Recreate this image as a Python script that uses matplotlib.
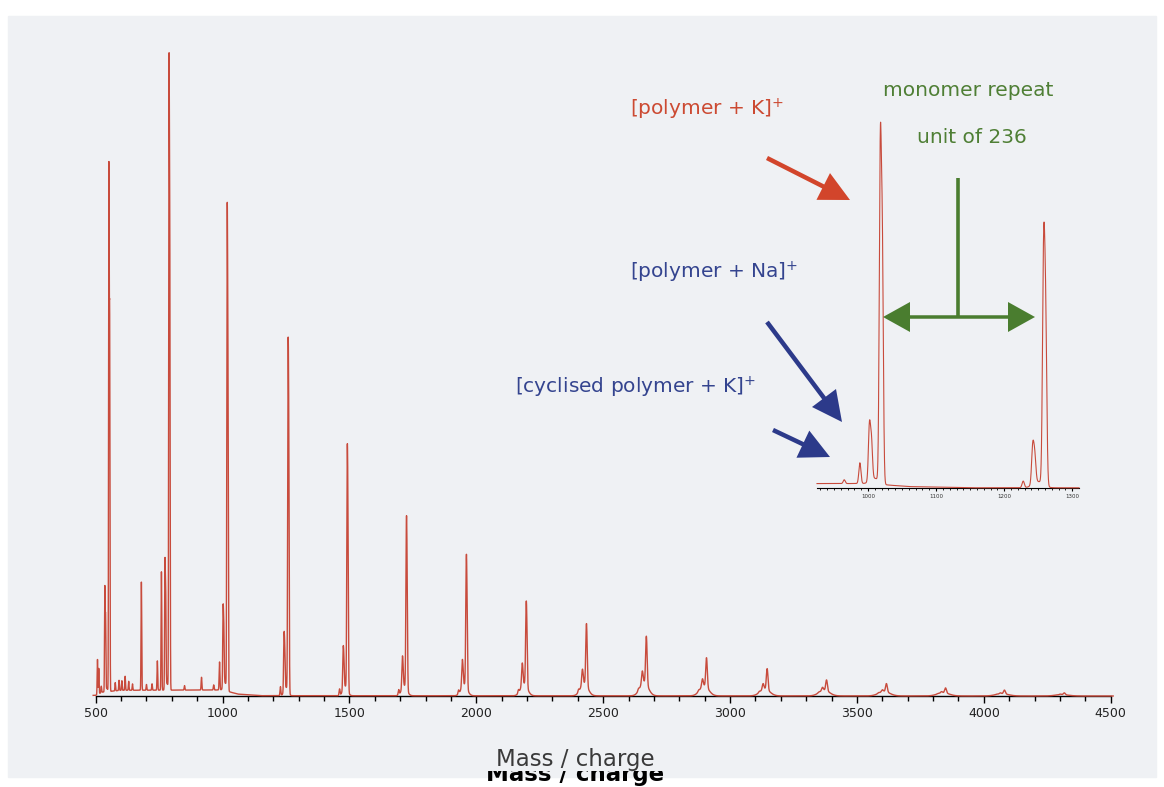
import numpy as np
import matplotlib
matplotlib.use("Agg")
import matplotlib.pyplot as plt
from matplotlib.patches import FancyArrow, Rectangle

# ---------------------------------------------------------------- data
# [polymer + K]+ oligomer series: m/z and relative intensity (%)
k_mz = [552, 789, 1018, 1258, 1491, 1724, 1960, 2196, 2433, 2669,
        2906, 3145, 3379, 3615, 3848, 4080, 4316]
k_int = [83.3, 100.0, 76.4, 55.7, 38.7, 27.2, 20.9, 13.4, 9.7, 7.5,
         4.6, 3.3, 1.7, 1.3, 0.8, 0.6, 0.3]
# [polymer + Na]+ companions (16 below each K adduct)
na_int = [16.7, 20.6, 13.0, 9.3, 6.8, 5.0, 4.2, 3.5, 2.4, 1.9,
          1.2, 0.9, 0.5, 0.3, 0.2, 0.15, 0.1]
# [cyclised polymer + K]+ companions (30 below each K adduct)
cyc_int = [1.0, 18.6, 4.4, 1.4, 1.0, 0.8, 0.6, 0.5, 0.4, 0.3,
           0.2, 0.15, 0.1, 0.1, 0.05, 0.05, 0.03]
# unresolved isotope envelope beneath each cluster
env_int = [0.5, 1.0, 1.2, 1.3, 1.5, 1.6, 1.8, 1.9, 2.0, 2.2,
           1.6, 1.1, 0.9, 0.7, 0.5, 0.35, 0.2]
# matrix / low-mass peaks
low_mz = [507, 512, 577, 592, 603, 616, 630, 645, 680, 700, 722, 743, 850, 917, 965]
low_int = [5.5, 4.0, 1.3, 1.6, 1.5, 2.2, 1.4, 1.0, 17.0, 0.9, 1.0, 4.6, 0.7, 2.0, 0.8]
# chemical-noise baseline
base_mz = [500, 525, 600, 1000, 1060, 1150, 4500]
base_lvl = [0.1, 0.6, 0.9, 0.95, 0.3, 0.05, 0.0]

major_ticks = [500, 1000, 1500, 2000, 2500, 3000, 3500, 4000, 4500]
inset_ticks = [1000, 1100, 1200, 1300]
inset_range = (925, 1310)

NA_SHIFT, CYC_SHIFT, ISO_SHIFT = -16, -30, 3

# ------------------------------------------------------------ spectrum
mz = np.arange(490.0, 4510.0, 0.1)
signal = np.interp(mz, base_mz, base_lvl)


def gauss(c, s):
    return np.exp(-0.5 * ((mz - c) / s) ** 2)


def doublet(c, h, s):
    """Peak plus its +3 isotope partner, scaled so the apex equals h."""
    g = gauss(c, s) + 0.7 * gauss(c + ISO_SHIFT, s)
    win = np.abs(mz - c) < 4 * s + ISO_SHIFT
    return h * g / g[win].max()


for m, k, na, cy, ev in zip(k_mz, k_int, na_int, cyc_int, env_int):
    s = 0.9 + 0.0006 * m
    signal += doublet(m, k, s)
    signal += doublet(m + NA_SHIFT, na, s)
    signal += cy * gauss(m + CYC_SHIFT, s)
    signal += ev * gauss(m - 8, 0.006 * m)

for c, h in zip(low_mz, low_int):
    signal += h * gauss(c, 0.9 + 0.0006 * c)

# -------------------------------------------------------------- figure
W, H = 1164, 787
BG = "#eff1f4"
TRACE = "#c84b3c"
fig = plt.figure(figsize=(W / 100, H / 100), dpi=100, facecolor="white")
fig.patches.append(Rectangle((8 / W, 10 / H), (W - 16) / W, (H - 26) / H,
                             transform=fig.transFigure, color=BG, zorder=-10))

# main spectrum
ax = fig.add_axes([95.7 / W, (H - 696) / H, 1015 / W, 636 / H])
ax.set_facecolor("none")
ax.plot(mz, signal, color=TRACE, lw=1.0, zorder=3, clip_on=False)
ax.set_xlim(500, 4500)
ax.set_ylim(0, 100)
for sp in ("left", "right", "top"):
    ax.spines[sp].set_visible(False)
ax.spines["bottom"].set_color("black")
ax.spines["bottom"].set_linewidth(1.0)
ax.spines["bottom"].set_zorder(1)
ax.set_yticks([])
ax.set_xticks(major_ticks)
ax.set_xticks(np.arange(500, 4501, 100), minor=True)
ax.tick_params(axis="x", which="major", direction="out", length=5, width=1.0,
               pad=3, labelsize=9, labelcolor="#222222")
ax.tick_params(axis="x", which="minor", direction="out", length=3.5, width=1.0)

# inset: zoom on two neighbouring oligomers
sel = (mz >= inset_range[0]) & (mz <= inset_range[1])
ins = fig.add_axes([817 / W, (H - 488) / H, 262 / W, 370 / H])
ins.set_facecolor("none")
ins.plot(mz[sel], signal[sel], color=TRACE, lw=0.8, zorder=3, clip_on=False)
ins.set_xlim(*inset_range)
ins.set_ylim(0, 78.5)
for sp in ("left", "right", "top"):
    ins.spines[sp].set_visible(False)
ins.spines["bottom"].set_linewidth(0.8)
ins.spines["bottom"].set_zorder(1)
ins.set_yticks([])
ins.set_xticks(inset_ticks)
ins.set_xticks(np.arange(930, 1310, 10), minor=True)
ins.tick_params(axis="x", which="major", direction="out", length=2.5, width=0.8,
                pad=1.5, labelsize=4, labelcolor="#333333")
ins.tick_params(axis="x", which="minor", direction="out", length=1.5, width=0.6)

# annotation layer in pixel coordinates
ov = fig.add_axes([0, 0, 1, 1], zorder=5)
ov.set_xlim(0, W)
ov.set_ylim(H, 0)
ov.axis("off")
ov.set_facecolor("none")

RED_TXT, RED_ARR = "#cc4a32", "#d2452b"
BLUE_TXT, BLUE_ARR = "#34448f", "#2c3a8a"
GREEN_TXT, GREEN_ARR = "#4f7f35", "#4a7d2f"
FS = 14.5

ov.text(630, 115, r"[polymer + K]$^{+}$", color=RED_TXT, fontsize=FS, va="baseline")
ov.text(630, 278, r"[polymer + Na]$^{+}$", color=BLUE_TXT, fontsize=FS, va="baseline")
ov.text(515, 393, r"[cyclised polymer + K]$^{+}$", color=BLUE_TXT, fontsize=FS, va="baseline")
ov.text(968, 96, "monomer repeat", color=GREEN_TXT, fontsize=FS, va="baseline", ha="center")
ov.text(972, 143, "unit of 236", color=GREEN_TXT, fontsize=FS, va="baseline", ha="center")


def arrow(x0, y0, x1, y1, color, width=4.5, hw=30, hl=30):
    ov.add_patch(FancyArrow(x0, y0, x1 - x0, y1 - y0, width=width, head_width=hw,
                            head_length=hl, length_includes_head=True,
                            color=color, lw=0))


arrow(767, 158, 850, 200, RED_ARR)
arrow(767, 322, 842, 422, BLUE_ARR)
arrow(773, 430, 830, 457, BLUE_ARR)
ov.plot([958, 958], [178, 318], color=GREEN_ARR, lw=2.6, solid_capstyle="butt")
arrow(958, 317, 883, 317, GREEN_ARR, width=3.5, hw=30, hl=27)
arrow(958, 317, 1035, 317, GREEN_ARR, width=3.5, hw=30, hl=27)

# axis title, printed twice; only the lower strip of the second copy shows
keep = Rectangle((0, 771), W, H - 771, transform=ov.transData)
low = ov.text(575, 781, "Mass / charge", color="black", fontsize=16.5,
              fontweight="bold", ha="center", va="baseline", zorder=1,
              clip_on=True)
low.set_clip_path(keep)
ov.text(575, 766, "Mass / charge", color="#3a3a3a", fontsize=16.5,
        ha="center", va="baseline", zorder=3)

fig.savefig("out.png", dpi=100, facecolor=fig.get_facecolor())
